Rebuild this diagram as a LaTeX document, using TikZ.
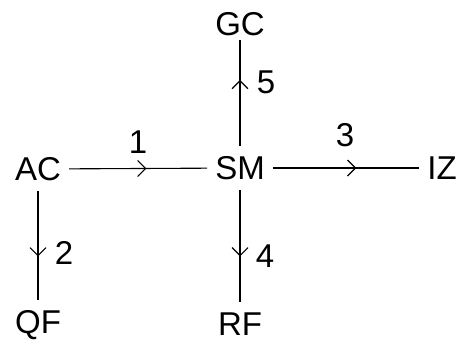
\documentclass[tikz,border=0pt]{standalone}
\usepackage{fontspec}
\setmainfont{Liberation Sans}
\usetikzlibrary{arrows.meta,decorations.markings}

\tikzset{
  estado/.style={inner xsep=8pt, inner ysep=10pt},
  num/.style={inner sep=0pt},
  flujo/.style={draw, line width=1.1pt, postaction={decorate},
    decoration={markings, mark=at position #1 with
      {\arrow{Straight Barb[length=8pt,width=16pt,line width=1.1pt]}}}}
}

\begin{document}
\begin{tikzpicture}[x=1pt, y=-1pt, font=\fontsize{33}{38}\selectfont]
  \useasboundingbox (0,0) rectangle (460,341);

  % Nodos
  \node[estado] (ac) at (38,169) {AC};
  \node[estado] (sm) at (240,168) {SM};
  \node[estado] (iz) at (442,168) {IZ};
  \node[estado] (gc) at (240,24) {GC};
  \node[estado] (qf) at (38,325) {QF};
  \node[estado] (rf) at (240,324) {RF};

  % Flechas
  \draw[flujo=0.56] (ac) -- (sm);
  \draw[flujo=0.6] (ac) -- (qf);
  \draw[flujo=0.57] (sm) -- (iz);
  \draw[flujo=0.59] (sm) -- (rf);
  \draw[flujo=0.66, shorten >=-6pt] (sm) -- (gc);

  % Numeros
  \node[num] (n1) at (138,142) {1};
  \node[num] (n2) at (64,253) {2};
  \node[num] (n3) at (345,135) {3};
  \node[num] (n4) at (265,256) {4};
  \node[num] (n5) at (266,82) {5};
\end{tikzpicture}
\end{document}
